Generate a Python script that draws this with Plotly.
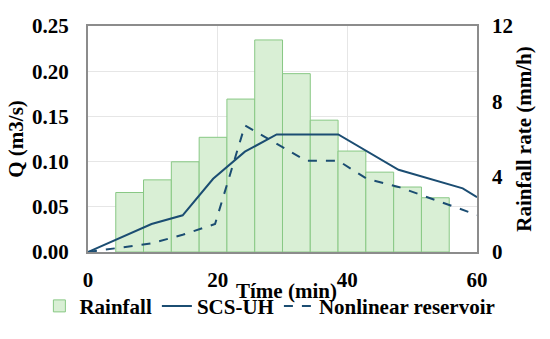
import plotly.graph_objects as go

# Rainfall bars (centre time in min, rate in mm/h)
rain_time = [6.43, 10.71, 15.0, 19.29, 23.57, 27.86, 32.14, 36.43, 40.71, 45.0, 49.29, 53.57]
rain_rate = [3.16, 3.83, 4.79, 6.09, 8.12, 11.26, 9.47, 7.0, 5.36, 4.24, 3.45, 2.88]
bar_width = 4.29

# SCS-UH discharge
scs_time = [0, 9.8, 14.6, 19.3, 24.2, 29.1, 38.6, 47.9, 57.8, 60]
scs_q = [0, 0.031, 0.0406, 0.081, 0.111, 0.130, 0.130, 0.0909, 0.0704, 0.0607]

# Nonlinear reservoir discharge
nlr_time = [0, 9.7, 14.6, 19.6, 24.2, 33.6, 38.6, 43.0, 47.9, 60]
nlr_q = [0, 0.0094, 0.019, 0.031, 0.140, 0.101, 0.101, 0.081, 0.072, 0.041]

x_ticks = [0, 20, 40, 60]
q_ticks = [0.0, 0.05, 0.10, 0.15, 0.20, 0.25]
r_ticks = [0, 4, 8, 12]

FF = "Liberation Serif"
FS = 21
line_color = "#1b4d72"
grid_color = "#e6e6e6"

def bfont(size=FS):
    return dict(family=FF, size=size, color="black", weight="bold")

fig = go.Figure()
fig.add_trace(go.Bar(
    x=rain_time, y=rain_rate, width=bar_width, name="Rainfall", yaxis="y",
    marker=dict(color="#d9efd5", line=dict(color="#88c884", width=1)),
))
fig.add_trace(go.Scatter(
    x=scs_time, y=scs_q, mode="lines", name="SCS-UH", yaxis="y2",
    line=dict(color=line_color, width=2),
))
fig.add_trace(go.Scatter(
    x=nlr_time, y=nlr_q, mode="lines", name="Nonlinear reservoir", yaxis="y2",
    line=dict(color=line_color, width=2, dash="dash"),
))

fig.update_layout(
    width=550, height=339,
    margin=dict(l=88, r=73, t=26, b=71),
    paper_bgcolor="white", plot_bgcolor="white",
    font=bfont(),
    showlegend=True,
    legend=dict(orientation="h", x=-0.125, xanchor="left", y=-0.24, yanchor="middle",
                font=bfont(), itemwidth=30,
                bgcolor="rgba(0,0,0,0)", tracegroupgap=0),
    xaxis=dict(range=[0, 60], tickvals=x_ticks, ticktext=[str(v) for v in x_ticks],
               showgrid=True, gridcolor=grid_color, gridwidth=1,
               showline=True, linecolor="#8c8c8c", linewidth=1.5, mirror=True,
               ticks="outside", ticklen=8, tickcolor="rgba(0,0,0,0)",
               tickfont=bfont(), zeroline=False, automargin=False),
    yaxis=dict(range=[0, 12], tickvals=r_ticks, ticktext=[str(v) for v in r_ticks],
               side="right", showgrid=False,
               minor=dict(tick0=0, dtick=2.4, showgrid=True, gridcolor=grid_color,
                          gridwidth=1, ticks=""),
               showline=True, linecolor="#8c8c8c", linewidth=1.5, mirror=True,
               ticks="outside", ticklen=9, tickcolor="rgba(0,0,0,0)",
               tickfont=bfont(),
               title=dict(text="Rainfall rate (mm/h)", font=bfont(), standoff=4),
               zeroline=False, automargin=False),
    yaxis2=dict(range=[0, 0.25], tickvals=q_ticks, ticktext=["%.2f" % v for v in q_ticks],
                overlaying="y", side="left", anchor="x", showgrid=False,
                ticks="outside", ticklen=14, tickcolor="rgba(0,0,0,0)",
                tickfont=bfont(),
                title=dict(text="Q (m3/s)", font=bfont(), standoff=2),
                zeroline=False, automargin=False),
    annotations=[dict(text="Tíme (min)", x=0.51, y=-0.172, xref="paper", yref="paper",
                      xanchor="center", yanchor="middle", showarrow=False,
                      font=bfont())],
)

page_css = ("var s=document.body.style;s.margin='0';s.padding='0';s.fontSize='0';"
            "s.lineHeight='0';s.overflow='hidden';"
            "document.documentElement.style.overflow='hidden';")
fig.write_html("out.html", post_script=page_css, config={"displayModeBar": False})
